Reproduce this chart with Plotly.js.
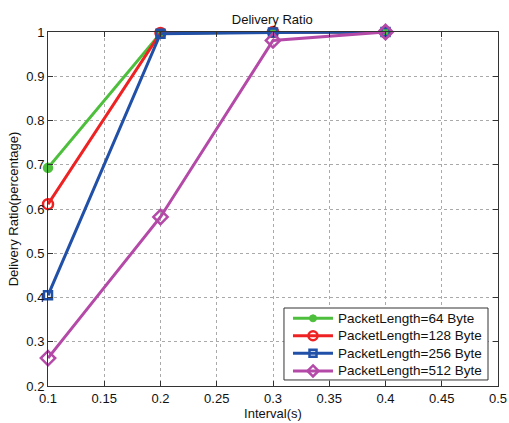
<!DOCTYPE html>
<html><head><meta charset="utf-8">
<script src="https://cdn.plot.ly/plotly-3.0.1.min.js"></script>
<style>html,body{margin:0;padding:0;background:#fff}</style>
</head><body><div id="chart" style="width:509px;height:423px"></div>
<script>
const intervals = [0.1, 0.2, 0.3, 0.4];
const ratio64 = [0.693, 0.997, 1.0, 1.0];
const ratio128 = [0.611, 0.998, 1.0, 1.0];
const ratio256 = [0.405, 0.996, 0.999, 1.0];
const ratio512 = [0.263, 0.582, 0.981, 1.0];
const seriesNames = ['PacketLength=64 Byte','PacketLength=128 Byte','PacketLength=256 Byte','PacketLength=512 Byte'];
const xTicks = [0.1,0.15,0.2,0.25,0.3,0.35,0.4,0.45,0.5];
const yTicks = [0.2,0.3,0.4,0.5,0.6,0.7,0.8,0.9,1];

const FONT = 'Liberation Sans, Arial';
const colors = ['#4dbf3c','#ee2222','#2150a8','#b449a8'];
const symbols = ['circle','circle-open','square-open','diamond-open'];
const sizes = [8,10,8,11];
const data = [ratio64, ratio128, ratio256, ratio512].map((y,i)=>({
  x: intervals, y: y, name: seriesNames[i], type:'scatter', mode:'lines+markers',
  line:{color:colors[i], width:3}, cliponaxis:false, showlegend:false,
  marker:{symbol:symbols[i], size:sizes[i], color:colors[i], line:{color:colors[i], width:2.5}}
}));

// legend drawn manually (compact row spacing like the reference)
const legX0 = 0.5244, legX1 = 0.9778, legY0 = 0.017, legY1 = 0.2203;
const rowY = [0.1912, 0.1421, 0.0924, 0.0424];
const sampleX0 = 0.5444, sampleX1 = 0.6333, markX = 0.5889, textX = 0.640;
const shapes = [{type:'rect', xref:'paper', yref:'paper', x0:legX0, x1:legX1, y0:legY0, y1:legY1,
  fillcolor:'#fff', line:{color:'#333', width:1}, layer:'above'}];
const annotations = [];
seriesNames.forEach((nm,i)=>{
  const c = colors[i], yy = rowY[i];
  shapes.push({type:'line', xref:'paper', yref:'paper', x0:sampleX0, x1:sampleX1, y0:yy, y1:yy,
    line:{color:c, width:3}, layer:'above'});
  const base = {xref:'paper', yref:'paper', xsizemode:'pixel', ysizemode:'pixel', xanchor:markX, yanchor:yy, layer:'above'};
  if (i===0) shapes.push(Object.assign({}, base, {type:'circle', x0:-3.5, x1:3.5, y0:-3.5, y1:3.5, fillcolor:c, line:{color:c, width:1}}));
  if (i===1) shapes.push(Object.assign({}, base, {type:'circle', x0:-4.5, x1:4.5, y0:-4.5, y1:4.5, fillcolor:'rgba(0,0,0,0)', line:{color:c, width:2.5}}));
  if (i===2) shapes.push(Object.assign({}, base, {type:'rect', x0:-3.5, x1:3.5, y0:-3.5, y1:3.5, fillcolor:'rgba(0,0,0,0)', line:{color:c, width:2.5}}));
  if (i===3) shapes.push(Object.assign({}, base, {type:'path', path:'M0,5.5 L5.5,0 L0,-5.5 L-5.5,0 Z', fillcolor:'rgba(0,0,0,0)', line:{color:c, width:2.5}}));
  annotations.push({xref:'paper', yref:'paper', x:textX, y:yy, xanchor:'left', yanchor:'middle', showarrow:false,
    text:nm, font:{family:FONT, size:13.5, color:'#111'}});
});

const axisCommon = {showline:true, mirror:'ticks', linecolor:'#333', linewidth:1, ticks:'inside', ticklen:5, tickcolor:'#333',
  showgrid:true, gridcolor:'#aaa', griddash:'dot', gridwidth:1, zeroline:false,
  tickfont:{family:FONT, size:13, color:'#111'}};
const layout = {
  width:509, height:423,
  margin:{l:48, r:11, t:32, b:37},
  paper_bgcolor:'#fff', plot_bgcolor:'#fff',
  title:{text:'Delivery Ratio', x:0.535, xanchor:'center', y:0.955, yanchor:'middle', font:{family:FONT, size:13, color:'#111'}},
  xaxis:Object.assign({}, axisCommon, {range:[0.1,0.5], tickvals:xTicks, ticktext:xTicks.map(String),
    title:{text:'Interval(s)', standoff:1, font:{family:FONT, size:13, color:'#111'}}}),
  yaxis:Object.assign({}, axisCommon, {range:[0.2,1], tickvals:yTicks, ticktext:yTicks.map(String),
    title:{text:'Delivery Ratio(percentage)', standoff:4, font:{family:FONT, size:13, color:'#111'}}}),
  showlegend:false,
  shapes: shapes,
  annotations: annotations
};
Plotly.newPlot('chart', data, layout, {displayModeBar:false, staticPlot:true});
</script></body></html>
